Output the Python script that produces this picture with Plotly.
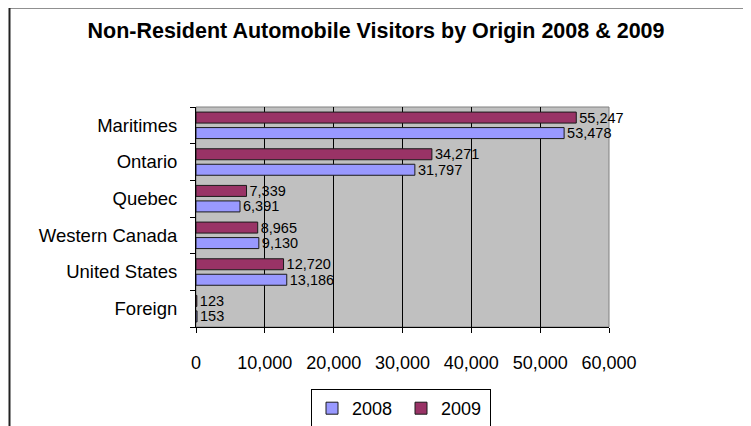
import plotly.graph_objects as go

categories = ["Maritimes", "Ontario", "Quebec", "Western Canada", "United States", "Foreign"]
values_2008 = [53478, 31797, 6391, 9130, 13186, 153]
values_2009 = [55247, 34271, 7339, 8965, 12720, 123]
series_names = ["2008", "2009"]
x_ticks = [0, 10000, 20000, 30000, 40000, 50000, 60000]

OFF = 8  # page body margin
W, H = 751 - OFF, 426 - OFF
ML, MT = 196 - OFF, 107 - OFF
MR, MB = W - (609 - OFF), H - (327 - OFF)
FONT = "Liberation Sans, Arial, sans-serif"

fig = go.Figure()
for name, vals, color in [(series_names[0], values_2008, "#9999FF"),
                          (series_names[1], values_2009, "#993366")]:
    fig.add_trace(go.Bar(
        y=categories, x=vals, name=name, orientation="h",
        marker=dict(color=color, line=dict(color="#1a1a1a", width=1)),
        text=[f"{v:,}" for v in vals], textposition="outside",
        textfont=dict(family=FONT, size=14.5, color="black"),
        constraintext="none", cliponaxis=False,
    ))

pw = W - ML - MR
ph = H - MT - MB

fig.update_layout(
    width=W, height=H,
    margin=dict(l=ML, r=MR, t=MT, b=MB, autoexpand=False),
    paper_bgcolor="white", plot_bgcolor="#C0C0C0",
    barmode="group", bargap=0.155, bargroupgap=0.29,
    title=dict(text="<b>Non-Resident Automobile Visitors by Origin 2008 &amp; 2009</b>",
               x=(376 - OFF) / W, xanchor="center", y=1 - (30 - OFF) / H, yanchor="middle",
               font=dict(family=FONT, size=21.5, color="black")),
    font=dict(family=FONT, color="black"),
    xaxis=dict(range=[0, 60000], tickvals=x_ticks, tickformat=",",
               showgrid=True, gridcolor="black", gridwidth=1,
               showline=True, linecolor="black", linewidth=1,
               ticks="outside", ticklen=5, tickcolor="black",
               tickfont=dict(size=18), ticklabelstandoff=14, zeroline=False),
    yaxis=dict(categoryorder="array", categoryarray=categories[::-1],
               showline=True, linecolor="black", linewidth=1,
               ticks="outside", ticklen=5, tickcolor="black", tickson="boundaries",
               tickfont=dict(size=18.5), ticklabelstandoff=14, showgrid=False),
    legend=dict(orientation="h", xref="container", yref="container",
                x=(401 - OFF) / W, xanchor="center",
                y=1 - (389 - OFF) / H, yanchor="top",
                bordercolor="black", borderwidth=1, bgcolor="white",
                font=dict(size=18), itemwidth=30, traceorder="normal",
                entrywidth=44),
    showlegend=True,
    shapes=[
        dict(type="rect", xref="paper", yref="paper", x0=0, x1=1, y0=0, y1=1,
             line=dict(color="#808080", width=1), layer="below"),
        dict(type="line", xref="paper", yref="paper",
             x0=(9.5 - OFF - ML) / pw, x1=(W + 5 - ML) / pw,
             y0=(H - MB - (7.5 - OFF)) / ph, y1=(H - MB - (7.5 - OFF)) / ph,
             line=dict(color="#222222", width=2)),
        dict(type="line", xref="paper", yref="paper",
             x0=(9.5 - OFF - ML) / pw, x1=(9.5 - OFF - ML) / pw,
             y0=(H - MB - (7.5 - OFF)) / ph, y1=-(MB + 5) / ph,
             line=dict(color="#222222", width=2)),
    ],
)

fig.write_html("out.html")
